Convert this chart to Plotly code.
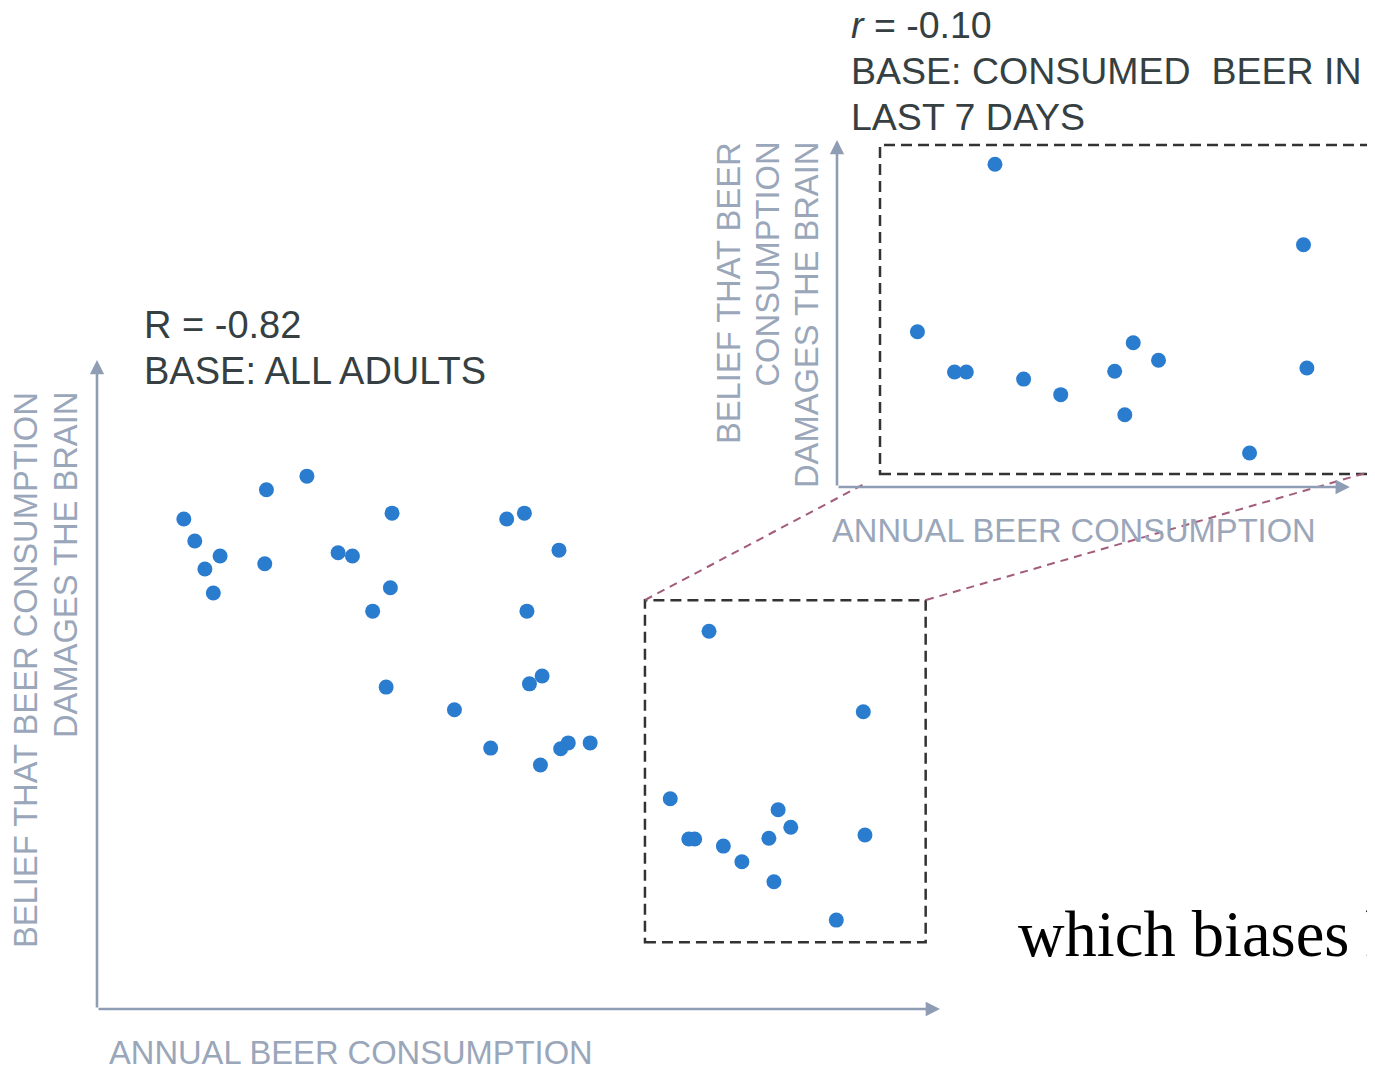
import plotly.graph_objects as go
import numpy as np

# page is rendered with an 8px body margin
OX, OY = 8, 8
W, H = 1375, 1067

# ---- data (abstract units: annual beer consumption vs belief score) ----
consumption = [10.3, 11.6, 12.8, 13.8, 14.6, 20.1, 19.9, 24.9, 28.6, 30.3,
               35.0, 34.8, 32.7, 34.3, 42.4, 46.7, 48.6, 50.7, 54.8, 51.0,
               51.3, 52.8, 52.6, 55.0, 55.9, 58.5,
               68.0, 70.2, 70.9, 72.6, 74.3, 76.5, 79.7, 80.8, 82.3, 80.3,
               87.7, 90.9, 91.1]
belief = [75.5, 72.1, 67.8, 64.1, 69.8, 80.0, 68.6, 82.1, 70.3, 69.8,
          76.4, 64.9, 61.3, 49.6, 46.1, 40.2, 75.5, 76.4, 70.7, 61.3,
          50.1, 51.3, 37.6, 40.1, 41.0, 41.0,
          32.4, 26.2, 26.2, 58.2, 25.1, 22.7, 26.3, 30.7, 28.0, 19.6,
          13.7, 45.8, 26.8]
zoom_x = [65.0, 98.3]   # region of recent beer drinkers
zoom_y = [10.3, 63.0]

heading_all = ["R = -0.82", "BASE: ALL ADULTS"]
heading_sub = ["<i>r</i> = -0.10", "BASE: CONSUMED\u00a0 BEER IN", "LAST 7 DAYS"]
x_title = "ANNUAL BEER CONSUMPTION"
y_title_main = ["BELIEF THAT BEER CONSUMPTION", "DAMAGES THE BRAIN"]
y_title_inset = ["BELIEF THAT BEER", "CONSUMPTION", "DAMAGES THE BRAIN"]
caption = "which biases h"

def px(x):
    return (x - OX) / W

def py(y):
    return 1 - (y - OY) / H

cx = np.array(consumption)
cy = np.array(belief)
mask = (cx >= zoom_x[0]) & (cx <= zoom_x[1]) & (cy >= zoom_y[0]) & (cy <= zoom_y[1])

DOT = "#2a7ccf"
AXIS = "#8e9db4"
AXT = "#9aa6b9"
DARK = "#363f42"
MAUVE = "#a35d7c"
BOX = "#333333"

fig = go.Figure()
fig.add_trace(go.Scatter(x=cx, y=cy, mode="markers", xaxis="x", yaxis="y",
                         marker=dict(size=15, color=DOT), hoverinfo="skip"))
fig.add_trace(go.Scatter(x=cx[mask], y=cy[mask], mode="markers", xaxis="x2", yaxis="y2",
                         marker=dict(size=15, color=DOT), hoverinfo="skip"))

hidden = dict(showgrid=False, zeroline=False, showticklabels=False, showline=False, ticks="")
x_main = [0, 100]
y_main = [0, 100]
x_in = [63.23, 95.14]      # inset: 2x horizontal magnification
y_in = [8.47, 61.94]
x_in_arrow = 93.65

fig.update_layout(
    width=W, height=H, autosize=False,
    margin=dict(l=0, r=0, t=0, b=0),
    paper_bgcolor="white", plot_bgcolor="rgba(0,0,0,0)",
    showlegend=False,
    font=dict(family="Liberation Sans, Arial, sans-serif"),
    xaxis=dict(domain=[px(97), px(940)], range=x_main, **hidden),
    yaxis=dict(domain=[py(1009), py(360)], range=y_main, **hidden),
    xaxis2=dict(domain=[px(837), px(1375)], range=x_in, anchor="y2", **hidden),
    yaxis2=dict(domain=[py(487), py(140)], range=y_in, anchor="x2", **hidden),
)

ann = []
def arrow(xr, yr, x0, y0, x1, y1):
    return dict(xref=xr, yref=yr, axref=xr, ayref=yr, x=x1, y=y1, ax=x0, ay=y0,
                showarrow=True, arrowhead=2, arrowsize=1.1, arrowwidth=2.6,
                arrowcolor=AXIS, text="", standoff=0, startstandoff=0)

ann.append(arrow("x", "y", x_main[0], 0, x_main[1], 0))
ann.append(arrow("x", "y", 0, y_main[0], 0, y_main[1]))
ann.append(arrow("x2", "y2", x_in[0], y_in[0], x_in_arrow, y_in[0]))
ann.append(arrow("x2", "y2", x_in[0], y_in[0], x_in[0], y_in[1]))

def label(x, y, text, size, color, xanchor="left", yanchor="middle", angle=0, family=None):
    f = dict(size=size, color=color)
    if family:
        f["family"] = family
    return dict(xref="paper", yref="paper", x=px(x), y=py(y), text=text, showarrow=False,
                xanchor=xanchor, yanchor=yanchor, textangle=angle, font=f)

AS = 32.7
# x axis titles
ann.append(label(351, 1052, x_title, AS, AXT, xanchor="center"))
ann.append(label(1074, 530, x_title, AS, AXT, xanchor="center"))
# y axis titles (rotated, lines end at the top)
for i, t in enumerate(y_title_main):
    ann.append(label(25 + 40 * i, 390, t, AS, AXT, xanchor="center", yanchor="top", angle=-90))
for i, t in enumerate(y_title_inset):
    ann.append(label(728 + 39 * i, 140, t, AS, AXT, xanchor="center", yanchor="top", angle=-90))

# headings
for i, t in enumerate(heading_all):
    ann.append(label(142, 325 + 46 * i, t, 38, DARK))
for i, t in enumerate(heading_sub):
    ann.append(label(849, 25 + 46 * i, t, 37.5, DARK))

# caption (continues past the right edge, as in the source)
ann.append(label(1016, 934, caption, 64.5, "black",
                 family="Liberation Serif, Times New Roman, serif"))

fig.update_layout(annotations=ann)

shapes = []
shapes.append(dict(type="rect", xref="x", yref="y", x0=zoom_x[0], x1=zoom_x[1],
                   y0=zoom_y[0], y1=zoom_y[1],
                   line=dict(color=BOX, width=2.5, dash="11px,6px")))
shapes.append(dict(type="rect", xref="paper", yref="paper", x0=px(880), x1=px(1420),
                   y0=py(474), y1=py(145),
                   line=dict(color=BOX, width=2.5, dash="11px,6px")))
shapes.append(dict(type="line", xref="paper", yref="paper", x0=px(645), y0=py(600),
                   x1=px(866), y1=py(483), line=dict(color=MAUVE, width=2, dash="8px,6px")))
shapes.append(dict(type="line", xref="paper", yref="paper", x0=px(926), y0=py(600),
                   x1=px(1390), y1=py(466), line=dict(color=MAUVE, width=2, dash="8px,6px")))
fig.update_layout(shapes=shapes)

fig.write_html("out.html")
